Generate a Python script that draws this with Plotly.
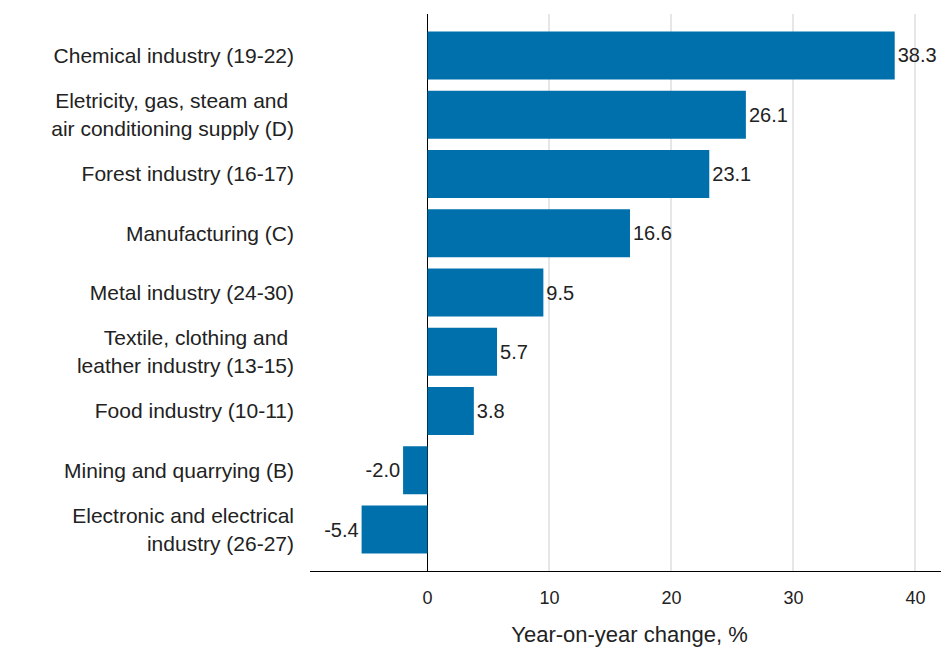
import plotly.graph_objects as go

categories = [
    "Chemical industry (19-22)",
    "Eletricity, gas, steam and <br>air conditioning supply (D)",
    "Forest industry (16-17)",
    "Manufacturing (C)",
    "Metal industry (24-30)",
    "Textile, clothing and <br>leather industry (13-15)",
    "Food industry (10-11)",
    "Mining and quarrying (B)",
    "Electronic and electrical<br>industry (26-27)",
]
values = [38.3, 26.1, 23.1, 16.6, 9.5, 5.7, 3.8, -2.0, -5.4]
labels = [f"{v:.1f}" for v in values]
tick_vals = [0, 10, 20, 30, 40]

FONT = "Liberation Sans"
TXT = "#222222"

fig = go.Figure(go.Bar(
    x=values, y=categories, orientation="h",
    marker=dict(color="#0070AD", line=dict(width=0)),
    text=labels, textposition="outside", cliponaxis=False,
    textfont=dict(family=FONT, size=20, color=TXT),
))

# page body adds an 8px margin, so the figure is sized 941x640
fig.update_layout(
    width=941, height=640,
    margin=dict(l=302, r=0, t=6, b=77),
    plot_bgcolor="white", paper_bgcolor="white",
    bargap=0.19, showlegend=False,
    font=dict(family=FONT, size=20, color=TXT),
    xaxis=dict(
        automargin=False,
        range=[-9.63, 42.75], tickvals=tick_vals,
        showgrid=True, gridcolor="#e6e6e6", gridwidth=2,
        zeroline=True, zerolinecolor="#000000", zerolinewidth=1,
        showline=True, linecolor="#000000", linewidth=1,
        ticks="", ticklabelstandoff=10,
        title=dict(text="Year-on-year change, %", standoff=20,
                   font=dict(family=FONT, size=22, color=TXT)),
        tickfont=dict(family=FONT, size=18, color=TXT),
    ),
    yaxis=dict(
        automargin=False,
        range=[8.7, -0.7], showgrid=False, zeroline=False,
        showline=False, ticks="", ticklabelstandoff=15,
        tickfont=dict(family=FONT, size=21, color=TXT),
    ),
)

fig.write_html("out.html")
